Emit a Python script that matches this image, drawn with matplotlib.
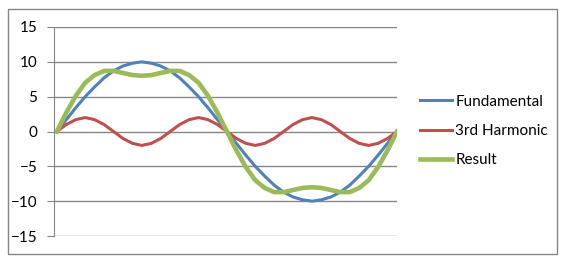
import numpy as np
import matplotlib
matplotlib.use("Agg")
import matplotlib.pyplot as plt
from matplotlib.patches import Rectangle

# values, one point every 10 degrees over one period
fundamental = [0, 1.7, 3.4, 5.0, 6.4, 7.7, 8.7, 9.4, 9.8, 10, 9.8, 9.4, 8.7, 7.7, 6.4, 5.0, 3.4, 1.7,
               0, -1.7, -3.4, -5.0, -6.4, -7.7, -8.7, -9.4, -9.8, -10, -9.8, -9.4, -8.7, -7.7, -6.4, -5.0, -3.4, -1.7, 0]
harmonic3 = [0, 1.0, 1.7, 2, 1.7, 1.0, 0, -1.0, -1.7, -2, -1.7, -1.0, 0, 1.0, 1.7, 2, 1.7, 1.0,
             0, -1.0, -1.7, -2, -1.7, -1.0, 0, 1.0, 1.7, 2, 1.7, 1.0, 0, -1.0, -1.7, -2, -1.7, -1.0, 0]
result = [0, 2.7, 5.1, 7.0, 8.1, 8.7, 8.7, 8.4, 8.1, 8.0, 8.1, 8.4, 8.7, 8.7, 8.1, 7.0, 5.1, 2.7,
          0, -2.7, -5.1, -7.0, -8.1, -8.7, -8.7, -8.4, -8.1, -8.0, -8.1, -8.4, -8.7, -8.7, -8.1, -7.0, -5.1, -2.7, 0]
names = ['Fundamental', '3rd Harmonic', 'Result']
yticks = [-15, -10, -5, 0, 5, 10, 15]

plt.rcParams['font.family'] = ['Lato', 'DejaVu Sans']

fig = plt.figure(figsize=(5.64, 2.61), dpi=100)
ax = fig.add_axes([54/564, 1-236/261, (397-54)/564, (236-27)/261])

x = np.arange(len(fundamental))
ax.plot(x, fundamental, color='#4F81BD', lw=2.2, label=names[0], solid_joinstyle='round')
ax.plot(x, harmonic3, color='#C0504D', lw=2.2, label=names[1], solid_joinstyle='round')
ax.plot(x, result, color='#9BBB59', lw=3.3, label=names[2], solid_joinstyle='round')

ax.set_xlim(-0.3, len(x)-1)
ax.set_ylim(-15, 15)
ax.set_yticks(yticks)
ax.set_xticks([])
ax.yaxis.grid(True, color='#868686', lw=1)
ax.set_axisbelow(True)
for s in ['top', 'right', 'bottom']:
    ax.spines[s].set_visible(False)
ax.spines['left'].set_color('#868686')
ax.tick_params(axis='y', length=5, color='#868686', pad=7, labelsize=11)

ax.legend(loc='center left', bbox_to_anchor=(420/564, 1-131/261), bbox_transform=fig.transFigure,
          frameon=False, fontsize=11, handlelength=2.1, handletextpad=0.2, labelspacing=1.0,
          borderpad=0, borderaxespad=0)

fig.patches.append(Rectangle((8/564, 1-254/261), (557-8)/564, (254-9)/261, transform=fig.transFigure,
                             fill=False, edgecolor='#868686', lw=1))

fig.savefig('out.png', dpi=100)
